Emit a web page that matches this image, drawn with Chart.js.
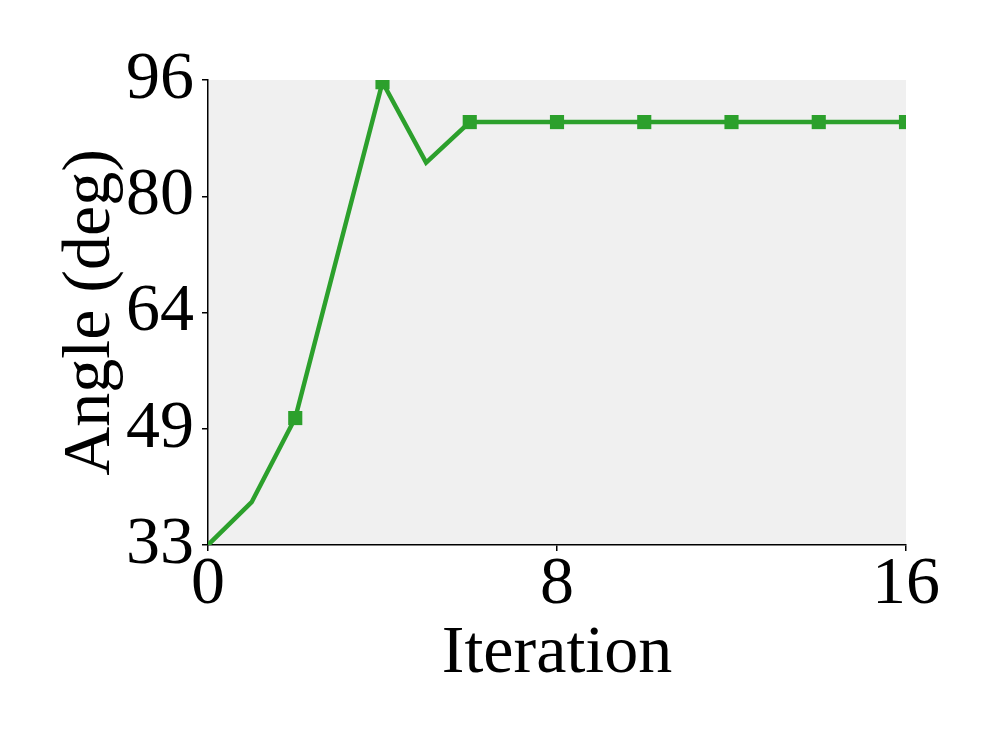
<!DOCTYPE html>
<html>
<head>
<meta charset="utf-8">
<script src="https://cdn.jsdelivr.net/npm/chart.js@4/dist/chart.umd.min.js"></script>
<style>
  html, body { margin: 0; padding: 0; background: #fff; }
  #wrap { width: 997px; height: 747px; }
</style>
</head>
<body>
<div id="wrap"><canvas id="angleChart" width="997" height="747"></canvas></div>
<script>
// Datos del gráfico
const iterations = [0, 1, 2, 3, 4, 5, 6, 7, 8, 9, 10, 11, 12, 13, 14, 15, 16];
const angles = [33, 38.8, 50.2, 73, 95.7, 84.8, 90.3, 90.3, 90.3, 90.3, 90.3, 90.3, 90.3, 90.3, 90.3, 90.3, 90.3];
const markedIterations = [2, 4, 6, 8, 10, 12, 14, 16];

const xTicks = [0, 8, 16];
const yTickValues = [33, 48.75, 64.5, 80.25, 96];
const yTickLabels = ['33', '49', '64', '80', '96'];

const GREEN = '#2ca02c';
const FONT = 'Liberation Serif';

// Fondo gris del área de trazado
const plotBackground = {
  id: 'plotBackground',
  beforeDraw(chart) {
    const { ctx, chartArea: a } = chart;
    ctx.save();
    ctx.fillStyle = '#f0f0f0';
    ctx.fillRect(a.left, a.top, a.right - a.left, a.bottom - a.top);
    ctx.restore();
  }
};

const ctx = document.getElementById('angleChart').getContext('2d');

new Chart(ctx, {
  type: 'line',
  data: {
    datasets: [{
      data: iterations.map((it, i) => ({ x: it, y: angles[i] })),
      borderColor: GREEN,
      backgroundColor: GREEN,
      borderWidth: 4.5,
      tension: 0,
      pointStyle: 'rect',
      pointRadius: iterations.map(it => markedIterations.includes(it) ? 10 : 0),
      pointBorderWidth: 0,
      clip: 0
    }]
  },
  options: {
    responsive: false,
    animation: false,
    layout: { padding: { top: 80, right: 91, left: 0, bottom: 48 } },
    plugins: {
      legend: { display: false },
      tooltip: { enabled: false }
    },
    scales: {
      x: {
        type: 'linear',
        min: 0,
        max: 16,
        afterBuildTicks: axis => { axis.ticks = xTicks.map(v => ({ value: v })); },
        afterFit: axis => { axis.height = 154; },
        border: { color: '#000', width: 1.5 },
        grid: { drawOnChartArea: false, drawTicks: true, tickLength: 6, color: '#000', lineWidth: 1.5 },
        ticks: { color: '#000', font: { family: FONT, size: 68 }, padding: -7, maxRotation: 0 },
        title: {
          display: true,
          text: 'Iteration',
          color: '#000',
          font: { family: FONT, size: 68 },
          padding: { top: 0 }
        }
      },
      y: {
        min: 33,
        max: 96,
        afterBuildTicks: axis => { axis.ticks = yTickValues.map(v => ({ value: v })); },
        afterFit: axis => { axis.width = 208; },
        border: { color: '#000', width: 1.5 },
        grid: { drawOnChartArea: false, drawTicks: true, tickLength: 6, color: '#000', lineWidth: 1.5 },
        ticks: {
          color: '#000',
          font: { family: FONT, size: 68 },
          padding: 8,
          callback: (value, index) => yTickLabels[index]
        },
        title: {
          display: true,
          text: 'Angle (deg)',
          color: '#000',
          font: { family: FONT, size: 68 },
          padding: { top: 50 }
        }
      }
    }
  },
  plugins: [plotBackground]
});
</script>
</body>
</html>
